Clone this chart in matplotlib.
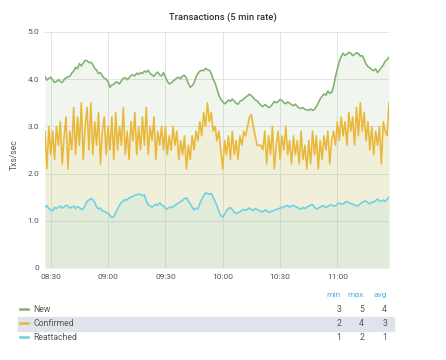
import numpy as np
import pandas as pd
import matplotlib
matplotlib.use("Agg")
import matplotlib.pyplot as plt
import matplotlib.dates as mdates
from matplotlib.lines import Line2D
from matplotlib.patches import Rectangle

plt.rcParams["font.family"] = ["Roboto", "DejaVu Sans"]

# ----------------------------
# Data
# ----------------------------
start = "2018-01-01 08:27"
end = "2018-01-01 11:27"

# one sample per minute
new_rate = [
    4.06, 3.98, 4.02, 4.04, 3.99, 3.93, 3.95, 3.99, 3.95, 3.93,
    3.99, 4.03, 4.05, 4.06, 4.13, 4.17, 4.25, 4.22, 4.33, 4.28,
    4.34, 4.40, 4.39, 4.35, 4.36, 4.31, 4.23, 4.19, 4.12, 4.14,
    4.07, 4.02, 4.00, 3.95, 3.83, 3.88, 3.89, 3.94, 3.93, 3.90,
    3.97, 4.02, 4.03, 3.99, 4.03, 4.08, 4.09, 4.07, 4.13, 4.10,
    4.14, 4.12, 4.17, 4.15, 4.19, 4.12, 4.09, 4.06, 4.12, 4.15,
    4.09, 4.07, 4.14, 4.05, 3.96, 3.90, 3.92, 3.96, 3.99, 4.03,
    4.04, 4.01, 4.07, 4.08, 4.02, 3.91, 3.83, 3.86, 3.92, 4.05,
    4.12, 4.17, 4.19, 4.18, 4.23, 4.20, 4.19, 4.12, 4.00, 3.92,
    3.79, 3.66, 3.58, 3.52, 3.48, 3.51, 3.56, 3.53, 3.58, 3.54,
    3.49, 3.47, 3.53, 3.55, 3.58, 3.62, 3.65, 3.68, 3.65, 3.61,
    3.56, 3.54, 3.49, 3.45, 3.42, 3.46, 3.44, 3.40, 3.42, 3.47,
    3.53, 3.50, 3.53, 3.57, 3.55, 3.50, 3.48, 3.52, 3.49, 3.46,
    3.44, 3.47, 3.42, 3.39, 3.38, 3.40, 3.36, 3.35, 3.34, 3.37,
    3.34, 3.36, 3.42, 3.50, 3.58, 3.64, 3.69, 3.66, 3.75, 3.70,
    3.72, 3.85, 4.06, 4.22, 4.38, 4.48, 4.55, 4.50, 4.53, 4.57,
    4.55, 4.50, 4.53, 4.56, 4.54, 4.49, 4.50, 4.42, 4.32, 4.27,
    4.24, 4.20, 4.18, 4.22, 4.14, 4.19, 4.25, 4.30, 4.38, 4.41,
    4.47,
]
confirmed_rate = [
    2.9, 2.1, 3.0, 2.4, 2.9, 2.3, 3.0, 2.6, 3.1, 2.2,
    2.8, 3.2, 2.1, 2.9, 2.5, 3.4, 2.4, 3.2, 2.6, 3.5,
    2.3, 3.0, 3.4, 2.5, 3.5, 2.4, 3.1, 2.6, 3.3, 2.2,
    2.9, 3.2, 2.4, 3.0, 2.5, 3.2, 2.3, 3.3, 2.5, 3.0,
    2.6, 3.4, 2.4, 2.9, 2.3, 3.1, 2.7, 3.3, 2.4, 3.0,
    2.5, 3.2, 2.6, 3.4, 2.4, 3.0, 2.7, 3.2, 2.3, 2.9,
    2.6, 3.0, 2.5, 3.0, 2.4, 2.8, 2.5, 3.0, 2.6, 2.9,
    2.3, 2.7, 2.4, 2.8, 2.1, 2.6, 2.3, 2.8, 2.5, 2.9,
    2.7, 3.1, 2.8, 3.3, 3.0, 3.5, 3.1, 3.3, 2.9, 3.0,
    2.7, 2.9, 2.5, 2.1, 2.7, 2.4, 2.8, 2.3, 2.9, 2.4,
    2.7, 2.3, 2.8, 2.6, 2.9, 2.8, 3.0, 3.2, 3.25, 3.0,
    2.8, 2.6, 2.6, 2.6, 2.5, 2.9, 2.2, 2.8, 2.4, 3.0,
    2.1, 2.6, 2.9, 2.3, 2.8, 2.5, 3.0, 2.4, 2.7, 2.2,
    2.8, 2.4, 2.7, 2.2, 2.9, 2.3, 2.6, 2.1, 2.7, 2.2,
    2.9, 2.4, 2.8, 2.1, 2.7, 2.3, 2.8, 2.5, 2.9, 2.2,
    2.7, 2.9, 2.6, 3.1, 2.7, 3.2, 2.8, 3.1, 2.6, 3.3,
    2.9, 3.2, 2.6, 3.4, 2.8, 3.5, 2.9, 3.3, 2.7, 3.1,
    2.5, 3.0, 2.4, 2.9, 2.6, 3.0, 2.2, 3.1, 2.9, 2.8,
    3.5,
]
reattached_rate = [
    1.29, 1.32, 1.26, 1.23, 1.21, 1.28, 1.26, 1.29, 1.31, 1.27,
    1.29, 1.33, 1.31, 1.27, 1.29, 1.31, 1.26, 1.30, 1.28, 1.24,
    1.25, 1.33, 1.41, 1.44, 1.47, 1.45, 1.39, 1.30, 1.25, 1.27,
    1.21, 1.20, 1.18, 1.16, 1.11, 1.07, 1.09, 1.17, 1.25, 1.33,
    1.39, 1.42, 1.45, 1.44, 1.49, 1.50, 1.52, 1.54, 1.55, 1.57,
    1.56, 1.53, 1.55, 1.42, 1.34, 1.31, 1.29, 1.32, 1.35, 1.33,
    1.38, 1.34, 1.31, 1.27, 1.25, 1.29, 1.28, 1.30, 1.32, 1.36,
    1.38, 1.41, 1.43, 1.47, 1.49, 1.42, 1.36, 1.29, 1.23, 1.27,
    1.25, 1.36, 1.45, 1.53, 1.59, 1.58, 1.56, 1.58, 1.50, 1.41,
    1.32, 1.20, 1.11, 1.08, 1.14, 1.21, 1.26, 1.28, 1.24, 1.19,
    1.15, 1.17, 1.19, 1.22, 1.24, 1.22, 1.25, 1.27, 1.24, 1.22,
    1.26, 1.24, 1.22, 1.20, 1.19, 1.23, 1.22, 1.18, 1.19, 1.21,
    1.22, 1.24, 1.25, 1.27, 1.28, 1.30, 1.31, 1.33, 1.29, 1.31,
    1.33, 1.30, 1.29, 1.26, 1.25, 1.28, 1.26, 1.29, 1.31, 1.33,
    1.34, 1.29, 1.25, 1.27, 1.29, 1.32, 1.31, 1.28, 1.31, 1.33,
    1.34, 1.31, 1.32, 1.36, 1.38, 1.35, 1.36, 1.39, 1.41, 1.38,
    1.37, 1.35, 1.34, 1.31, 1.32, 1.36, 1.39, 1.41, 1.42, 1.38,
    1.36, 1.40, 1.39, 1.43, 1.46, 1.42, 1.41, 1.44, 1.41, 1.46,
    1.50,
]

series_names = ["New", "Confirmed", "Reattached"]
series_colors = ["#7eb26d", "#eab839", "#6ed0e0"]
legend_min = [3, 2, 1]
legend_max = [5, 4, 2]
legend_avg = [4, 3, 1]

times = pd.date_range(start, end, periods=len(new_rate))
series_values = [new_rate, confirmed_rate, reattached_rate]

# ----
# Plot
# ----
fig = plt.figure(figsize=(4.46, 3.6), dpi=100)
ax = fig.add_axes([45 / 446, 1 - 268 / 360, 344 / 446, 236 / 360])

for v, c in zip(series_values, series_colors):
    ax.fill_between(times, v, 0, color=c, alpha=0.11, linewidth=0, zorder=1)
    ax.plot(times, v, color=c, linewidth=1.15, zorder=3)

ax.set_xlim(pd.Timestamp(start), pd.Timestamp(end))
ax.set_ylim(0, 5)
ax.set_yticks([0, 1, 2, 3, 4, 5])
ax.set_yticklabels(["0", "1.0", "2.0", "3.0", "4.0", "5.0"])
ax.xaxis.set_major_locator(mdates.MinuteLocator(byminute=[0, 30]))
ax.xaxis.set_major_formatter(mdates.DateFormatter("%H:%M"))

ax.grid(True, color="#e4e4e4", linewidth=0.7, zorder=0)
ax.set_axisbelow(True)
for s in ax.spines.values():
    s.set_visible(False)
ax.tick_params(length=0, labelsize=6.0, colors="#555555")
ax.tick_params(axis="x", pad=4.5)
ax.tick_params(axis="y", pad=4)

fig.text(223 / 446, 1 - 17.5 / 360, "Transactions (5 min rate)", ha="center",
         va="center", fontsize=6.8, color="#333333", fontweight="medium")
fig.text(14 / 446, 1 - 155 / 360, "Txs/sec", rotation=90, ha="center",
         va="center", fontsize=6.2, color="#555555")

# -------------
# Legend table
# -------------
fig.patches.append(Rectangle((18 / 446, 1 - 330.5 / 360), 376 / 446, 14 / 360,
                             transform=fig.transFigure, color="#dfe4ec",
                             zorder=0))
hdr_y = 1 - 295 / 360
for label, xr in zip(["min", "max", "avg"], [341, 364, 387]):
    fig.text(xr / 446, hdr_y, label, ha="right", va="center", fontsize=6.0,
             color="#4ab4e6")

for i, (name, c) in enumerate(zip(series_names, series_colors)):
    yy = 1 - (309 + 14 * i) / 360
    fig.lines.append(Line2D([20 / 446, 28 / 446], [yy, yy], color=c,
                            linewidth=1.8, transform=fig.transFigure))
    fig.text(33 / 446, yy, name, ha="left", va="center", fontsize=6.2,
             color="#555555")
    for val, xr in zip([legend_min[i], legend_max[i], legend_avg[i]],
                       [341, 364, 387]):
        fig.text(xr / 446, yy, str(val), ha="right", va="center",
                 fontsize=6.2, color="#555555")

fig.savefig("out.png", dpi=100, facecolor="white")
